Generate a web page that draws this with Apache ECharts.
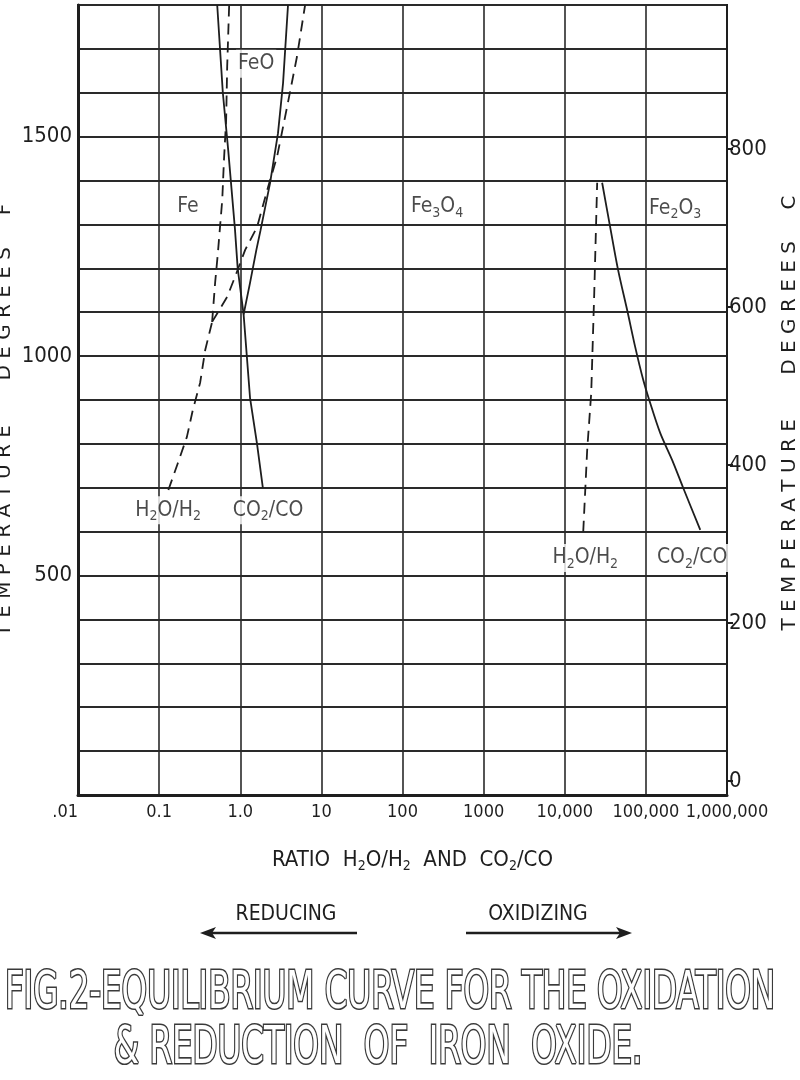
<!DOCTYPE html>
<html>
<head>
<meta charset="utf-8">
<title>Equilibrium curve for the oxidation and reduction of iron oxide</title>
<script src="https://cdn.jsdelivr.net/npm/echarts@6/dist/echarts.min.js"></script>
<style>
  html, body { margin: 0; padding: 0; background: #fff; }
  #chart { width: 800px; height: 1080px; }
</style>
</head>
<body>
<div id="chart"></div>
<script>
// ratio axis (log), temperature in F on the left, C on the right
const xTickLabels = ['.01', '0.1', '1.0', '10', '100', '1000', '10,000', '100,000', '1,000,000']
const fLabels = [500, 1000, 1500]
const cTicks = [0, 200, 400, 600, 800]

// [ratio, degrees F]
const h2FeFe3O4 = [[0.13, 695], [0.17, 756], [0.22, 816], [0.26, 877], [0.32, 939], [0.37, 1014], [0.45, 1078]]
const h2FeFeO = [[0.45, 1078], [0.49, 1167], [0.53, 1235], [0.60, 1356], [0.63, 1447], [0.67, 1538], [0.69, 1659], [0.73, 1800]]
const h2FeOFe3O4 = [[0.45, 1078], [0.69, 1135], [0.86, 1180], [1.15, 1242], [1.61, 1294], [2.2, 1385], [2.84, 1454], [3.78, 1568], [5.0, 1682], [6.3, 1800]]
const coFeFeO = [[0.52, 1800], [0.61, 1600], [0.71, 1470], [0.86, 1290], [0.93, 1200], [1.1, 1095], [1.32, 905], [1.61, 800], [1.9, 700]]
const coFeOFe3O4 = [[1.1, 1095], [1.32, 1167], [1.58, 1242], [1.78, 1287], [2.33, 1394], [2.92, 1508], [3.37, 1622], [3.88, 1800]]
const h2Fe3O4Fe2O3 = [[16900, 600], [18900, 786], [21200, 916], [23100, 1144], [25100, 1395]]
const coFe3O4Fe2O3 = [[28900, 1395], [36300, 1294], [45500, 1196], [58800, 1105], [73800, 1021], [92700, 946], [110000, 900], [150000, 825], [211000, 763], [288000, 700], [468000, 604]]

// phase / ratio labels: [text, ratio, degrees F]
const phaseLabels = [
  ['{n|FeO}', 1.57, 1666],
  ['{n|Fe}', 0.227, 1340],
  ['{n|Fe}{s|3}{n|O}{s|4}', 267, 1340],
  ['{n|Fe}{s|2}{n|O}{s|3}', 230000, 1337]
]
const ratioLabels = [
  ['{n|H}{s|2}{n|O/H}{s|2}', 0.129, 649],
  ['{n|CO}{s|2}{n|/CO}', 2.2, 649],
  ['{n|H}{s|2}{n|O/H}{s|2}', 17900, 540],
  ['{n|CO}{s|2}{n|/CO}', 372000, 540]
]

const NARROW = '"DejaVu Sans Condensed", "Liberation Sans Narrow", sans-serif'
const INK = '#1e1e1e'

const richText = {
  n: { fontFamily: NARROW, fontSize: 21, color: INK, lineHeight: 26 },
  s: { fontFamily: NARROW, fontSize: 14, color: INK, lineHeight: 10, verticalAlign: 'bottom' }
}
const nameRich = {
  n: { fontFamily: NARROW, fontSize: 22, color: INK, lineHeight: 26 },
  s: { fontFamily: NARROW, fontSize: 14, color: INK, lineHeight: 10, verticalAlign: 'bottom' }
}

function curve(data, dashed, smooth) {
  return {
    type: 'line',
    data: data,
    showSymbol: false,
    smooth: smooth || false,
    silent: true,
    lineStyle: { color: INK, width: 1.8, type: dashed ? [11, 7] : 'solid' }
  }
}

function labelSeries(list) {
  return {
    type: 'scatter',
    symbolSize: 0,
    silent: true,
    itemStyle: { color: INK },
    data: list.map(e => ({ value: [e[1], e[2]], text: e[0] })),
    label: {
      show: true,
      position: 'inside',
      formatter: p => p.data.text,
      color: INK,
      textBorderWidth: 0,
      backgroundColor: '#fff',
      padding: [1, 2],
      rich: richText
    },
    z: 5
  }
}

const nameStyle = { fontFamily: 'DejaVu Sans', fontSize: 20, color: INK }

const chart = echarts.init(document.getElementById('chart'))
chart.setOption({
  animation: false,
  backgroundColor: '#fff',
  grid: {
    left: 78, right: 73, top: 5, bottom: 285,
    show: true, borderColor: INK, borderWidth: 2,
    containLabel: false, outerBoundsMode: 'none'
  },
  xAxis: {
    type: 'log',
    logBase: 10,
    min: 0.01,
    max: 1000000,
    name: '{n|RATIO  H}{s|2}{n|O/H}{s|2}{n|  AND  CO}{s|2}{n|/CO}',
    nameLocation: 'middle',
    nameGap: 52,
    nameMoveOverlap: false,
    nameTextStyle: { rich: nameRich, padding: [0, 0, 0, 20] },
    axisLine: { lineStyle: { color: INK, width: 3 } },
    axisTick: { show: false },
    minorTick: { show: false },
    axisLabel: {
      fontFamily: NARROW,
      fontSize: 18,
      color: INK,
      margin: 8,
      hideOverlap: false,
      showMinLabel: true,
      showMaxLabel: true,
      alignMinLabel: 'right',
      formatter: v => xTickLabels[Math.round(Math.log10(v)) + 2]
    },
    splitLine: { show: true, lineStyle: { color: '#2a2a2a', width: 1.6 } }
  },
  yAxis: [
    {
      type: 'value',
      min: 0,
      max: 1800,
      interval: 100,
      position: 'left',
      name: 'T E M P E R A T U R E       D E G R E E S     F',
      nameLocation: 'middle',
      nameRotate: 90,
      nameGap: 63,
      nameMoveOverlap: false,
      nameTextStyle: Object.assign({ padding: [0, 40, 0, 0] }, nameStyle),
      axisLine: { show: true, lineStyle: { color: INK, width: 3 } },
      axisTick: { show: false },
      axisLabel: {
        fontFamily: NARROW,
        fontSize: 22,
        color: INK,
        margin: 6,
        formatter: v => fLabels.includes(v) ? String(v) : ''
      },
      splitLine: { show: true, lineStyle: { color: '#2a2a2a', width: 2 } }
    },
    {
      type: 'value',
      min: -160 / 9,
      max: (1800 - 32) * 5 / 9,
      position: 'right',
      name: 'T E M P E R A T U R E       D E G R E E S     C',
      nameLocation: 'middle',
      nameRotate: 90,
      nameGap: 53,
      nameMoveOverlap: false,
      nameTextStyle: Object.assign({ padding: [0, 26, 0, 0] }, nameStyle),
      axisLine: { show: true, lineStyle: { color: INK, width: 2 } },
      axisTick: { show: true, inside: false, length: 6, customValues: cTicks, lineStyle: { color: INK, width: 2 } },
      axisLabel: {
        fontFamily: NARROW,
        fontSize: 22,
        color: INK,
        margin: 2,
        customValues: cTicks
      },
      splitLine: { show: false }
    }
  ],
  graphic: [
    { type: 'text', x: 286, y: 915, style: { text: 'REDUCING', font: '21px ' + NARROW, fill: INK, textAlign: 'center', textVerticalAlign: 'middle' } },
    { type: 'line', shape: { x1: 210, y1: 933, x2: 357, y2: 933 }, style: { stroke: INK, lineWidth: 2.5 } },
    { type: 'polygon', shape: { points: [[200, 933], [216, 927], [212, 933], [216, 939]] }, style: { fill: INK } },
    { type: 'text', x: 538, y: 915, style: { text: 'OXIDIZING', font: '21px ' + NARROW, fill: INK, textAlign: 'center', textVerticalAlign: 'middle' } },
    { type: 'line', shape: { x1: 466, y1: 933, x2: 622, y2: 933 }, style: { stroke: INK, lineWidth: 2.5 } },
    { type: 'polygon', shape: { points: [[632, 933], [616, 927], [620, 933], [616, 939]] }, style: { fill: INK } },
    {
      type: 'text', x: 390, y: 995, scaleX: 0.95, scaleY: 1.35,
      style: {
        text: 'FIG.2-EQUILIBRIUM CURVE FOR THE OXIDATION',
        font: '38px ' + NARROW, fill: '#fff', stroke: '#3a3a3a', lineWidth: 2.4,
        textAlign: 'center', textVerticalAlign: 'middle'
      }
    },
    {
      type: 'text', x: 378, y: 1050, scaleX: 0.95, scaleY: 1.35,
      style: {
        text: '& REDUCTION  OF  IRON  OXIDE.',
        font: '38px ' + NARROW, fill: '#fff', stroke: '#3a3a3a', lineWidth: 2.4,
        textAlign: 'center', textVerticalAlign: 'middle'
      }
    }
  ],
  series: [
    curve(h2FeFe3O4, true),
    curve(h2FeFeO, true),
    curve(h2FeOFe3O4, true),
    curve(coFeFeO, false),
    curve(coFeOFe3O4, false),
    curve(h2Fe3O4Fe2O3, true),
    curve(coFe3O4Fe2O3, false, 0.3),
    labelSeries(phaseLabels),
    labelSeries(ratioLabels)
  ]
})
</script>
</body>
</html>
